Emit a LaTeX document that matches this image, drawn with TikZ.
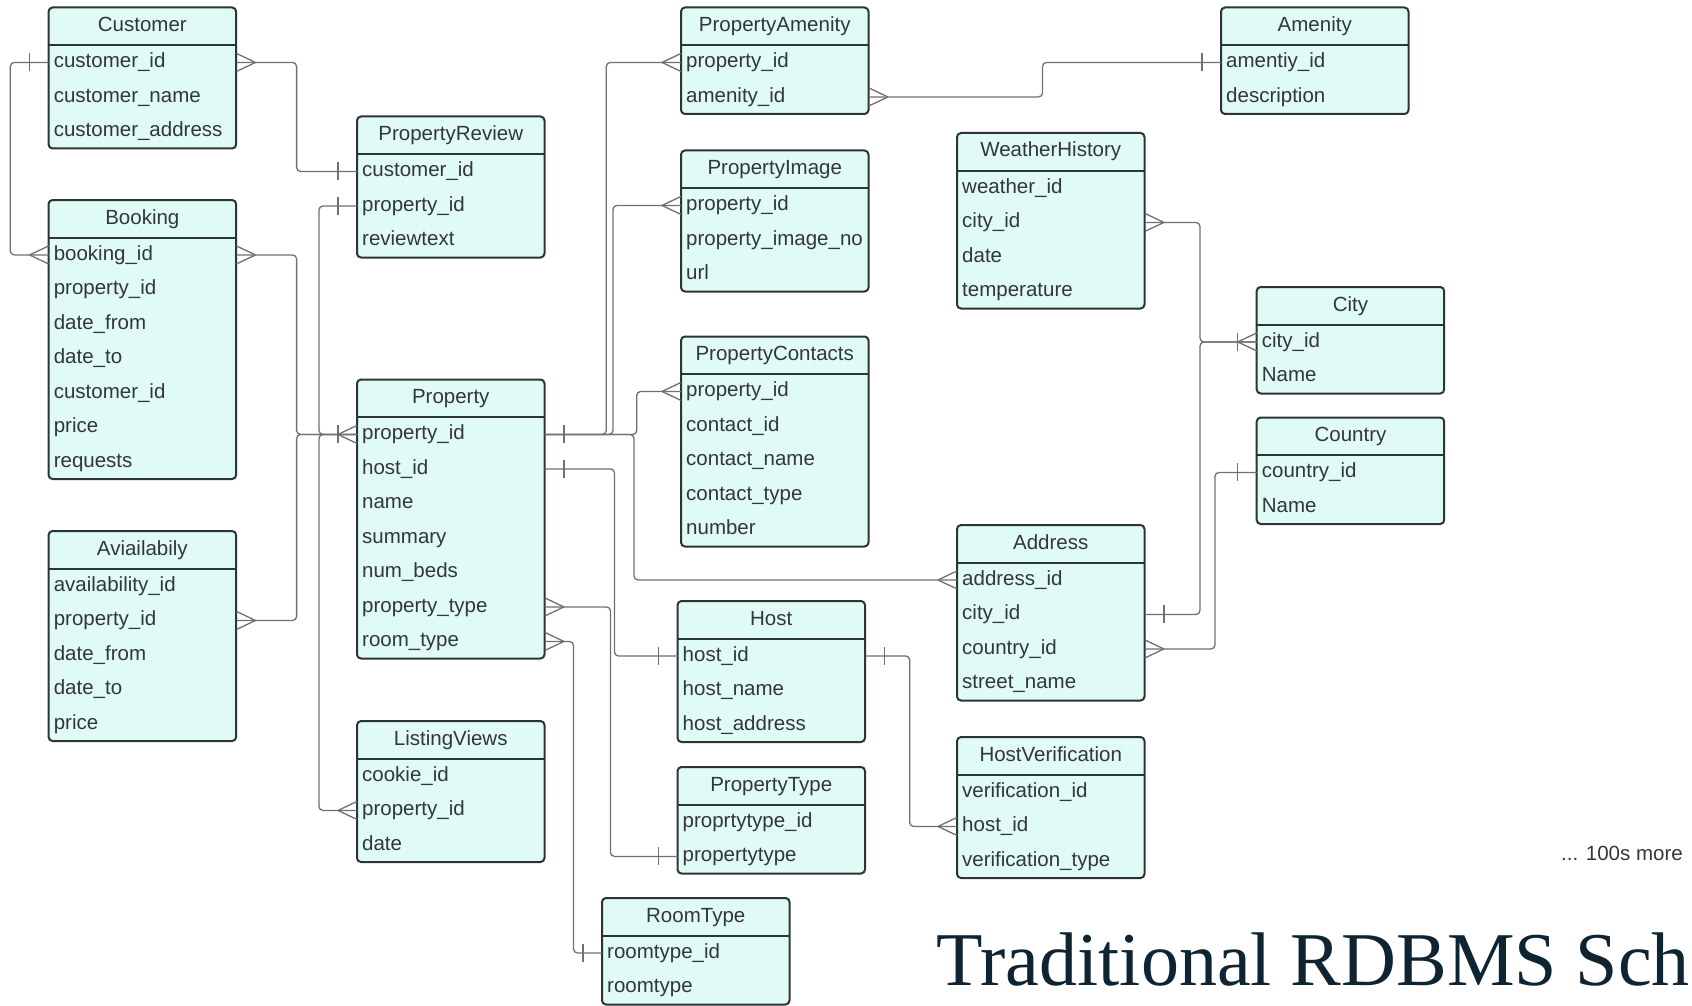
\documentclass[tikz,border=0pt]{standalone}
\usepackage{fontspec}
\setmainfont{Liberation Sans}
\newfontfamily\headlinefont{Liberation Serif}
\usetikzlibrary{calc}

\definecolor{tablefill}{RGB}{224,250,246}
\definecolor{tableedge}{RGB}{45,52,54}
\definecolor{inktext}{RGB}{50,55,57}
\definecolor{linkgray}{RGB}{112,112,112}
\definecolor{headlineink}{RGB}{14,36,50}

\tikzset{
  tablebox/.style={fill=tablefill, draw=tableedge, line width=2pt, rounded corners=4pt},
  headerrule/.style={draw=tableedge, line width=2pt},
  titletext/.style={inner sep=0pt, text=inktext, font=\fontsize{20.5}{24}\selectfont,
    text height=14.8pt, text depth=4.3pt},
  fieldtext/.style={inner xsep=5pt, inner ysep=0pt, text width=177.5pt, align=left,
    minimum height=34.5pt, text=inktext, font=\fontsize{20.5}{24}\selectfont,
    text height=14.8pt, text depth=4.3pt},
  rel/.style={draw=linkgray, line width=1.3pt, rounded corners=4pt},
  endmark/.style={draw=linkgray, line width=1.3pt},
}

% entity table: name, x, y (top left), number of rows, title, fields
\newcommand{\ertable}[6]{%
  \begin{scope}[shift={(#2,#3)}]
    \path[tablebox] (0,0) rectangle (187.5,{37.5+34.5*#4});
    \draw[headerrule] (0,37.5) -- (187.5,37.5);
    \node[titletext] (#1) at (93.75,18.75) {#5};
    \foreach \f [count=\i] in {#6} {
      \node[fieldtext, anchor=north west] (#1-\i) at (0,{37.5+34.5*(\i-1)}) {\f};
    }
  \end{scope}}

% crow's foot (many) at a field edge; #2 = +1 when the line leaves rightwards, -1 leftwards
\newcommand{\crowfoot}[2]{%
  \draw[endmark] #1 ++({19*(#2)},0) -- ++({-19*(#2)},-9) ++(0,18) -- ++({19*(#2)},-9);}
% single bar (one) at a field edge
\newcommand{\onebar}[2]{%
  \draw[endmark] #1 ++({19*(#2)},-9) -- ++(0,18);}

\begin{document}
\begin{tikzpicture}[x=1pt,y=-1pt]
\fill[white] (0,0) rectangle (1692,1006);
\useasboundingbox (0,0) rectangle (1692,1006);

% ---------- tables ----------
\ertable{customer}{48.6}{7.5}{3}{Customer}{customer\_id,customer\_name,customer\_address}
\ertable{booking}{48.6}{200}{7}{Booking}{booking\_id,property\_id,date\_from,date\_to,customer\_id,price,requests}
\ertable{avail}{48.6}{531}{5}{Aviailabily}{availability\_id,property\_id,date\_from,date\_to,price}
\ertable{review}{357}{116.5}{3}{PropertyReview}{customer\_id,property\_id,reviewtext}
\ertable{property}{357}{379.5}{7}{Property}{property\_id,host\_id,name,summary,num\_beds,property\_type,room\_type}
\ertable{views}{357}{721}{3}{ListingViews}{cookie\_id,property\_id,date}
\ertable{propamen}{681}{7.5}{2}{PropertyAmenity}{property\_id,amenity\_id}
\ertable{amenity}{1221}{7.5}{2}{Amenity}{amentiy\_id,description}
\ertable{propimg}{681}{150.5}{3}{PropertyImage}{property\_id,property\_image\_no,url}
\ertable{contacts}{681}{336.5}{5}{PropertyContacts}{property\_id,contact\_id,contact\_name,contact\_type,number}
\ertable{weather}{957}{133}{4}{WeatherHistory}{weather\_id,city\_id,date,temperature}
\ertable{city}{1256.7}{287}{2}{City}{city\_id,Name}
\ertable{country}{1256.7}{417.5}{2}{Country}{country\_id,Name}
\ertable{address}{957}{525}{4}{Address}{address\_id,city\_id,country\_id,street\_name}
\ertable{host}{677.5}{601}{3}{Host}{host\_id,host\_name,host\_address}
\ertable{proptype}{677.5}{767}{2}{PropertyType}{proprtytype\_id,propertytype}
\ertable{hostver}{957}{737}{3}{HostVerification}{verification\_id,host\_id,verification\_type}
\ertable{roomtype}{602}{898}{2}{RoomType}{roomtype\_id,roomtype}

% ---------- vertical routing channels ----------
\coordinate (chA) at (10.3,0);
\coordinate (chB) at (296.6,0);
\coordinate (chC) at (319,0);
\coordinate (chD) at (606.3,0);
\coordinate (chE) at (613,0);
\coordinate (chF) at (636.7,0);
\coordinate (chG) at (634,0);
\coordinate (chH) at (614.5,0);
\coordinate (chI) at (610.5,0);
\coordinate (chJ) at (573.5,0);
\coordinate (chK) at (1042.5,0);
\coordinate (chL) at (1200,0);
\coordinate (chM) at (1215,0);
\coordinate (chN) at (909.7,0);

% ---------- relationships ----------
\draw[rel] (customer-1.west) -- (customer-1.west -| chA) -- (booking-1.west -| chA) -- (booking-1.west);
\draw[rel] (customer-1.east) -- (customer-1.east -| chB) -- (review-1.west -| chB) -- (review-1.west);
\draw[rel] (booking-1.east) -- (booking-1.east -| chB) -- (property-1.west -| chB) -- (property-1.west);
\draw[rel] (avail-2.east) -- (avail-2.east -| chB) -- (property-1.west -| chB) -- (property-1.west);
\draw[rel] (review-2.west) -- (review-2.west -| chC) -- (property-1.west -| chC) -- (property-1.west);
\draw[rel] (views-2.west) -- (views-2.west -| chC) -- (property-1.west -| chC) -- (property-1.west);
\draw[rel] (property-1.east) -- (property-1.east -| chD) -- (propamen-1.west -| chD) -- (propamen-1.west);
\draw[rel] (property-1.east) -- (property-1.east -| chE) -- (propimg-1.west -| chE) -- (propimg-1.west);
\draw[rel] (property-1.east) -- (property-1.east -| chF) -- (contacts-1.west -| chF) -- (contacts-1.west);
\draw[rel] (property-1.east) -- (property-1.east -| chG) -- (address-1.west -| chG) -- (address-1.west);
\draw[rel] (property-2.east) -- (property-2.east -| chH) -- (host-1.west -| chH) -- (host-1.west);
\draw[rel] (property-6.east) -- (property-6.east -| chI) -- (proptype-2.west -| chI) -- (proptype-2.west);
\draw[rel] (property-7.east) -- (property-7.east -| chJ) -- (roomtype-1.west -| chJ) -- (roomtype-1.west);
\draw[rel] (propamen-2.east) -- (propamen-2.east -| chK) -- (amenity-1.west -| chK) -- (amenity-1.west);
\draw[rel] (weather-2.east) -- (weather-2.east -| chL) -- (city-1.west -| chL) -- (city-1.west);
\draw[rel] (address-2.east) -- (address-2.east -| chL) -- (city-1.west -| chL) -- (city-1.west);
\draw[rel] (address-3.east) -- (address-3.east -| chM) -- (country-1.west -| chM) -- (country-1.west);
\draw[rel] (host-1.east) -- (host-1.east -| chN) -- (hostver-2.west -| chN) -- (hostver-2.west);

% ---------- cardinality marks ----------
\onebar{(customer-1.west)}{-1}
\crowfoot{(booking-1.west)}{-1}
\crowfoot{(customer-1.east)}{1}
\onebar{(review-1.west)}{-1}
\crowfoot{(booking-1.east)}{1}
\crowfoot{(property-1.west)}{-1}
\onebar{(property-1.west)}{-1}
\crowfoot{(avail-2.east)}{1}
\onebar{(review-2.west)}{-1}
\crowfoot{(views-2.west)}{-1}
\onebar{(property-1.east)}{1}
\crowfoot{(propamen-1.west)}{-1}
\crowfoot{(propimg-1.west)}{-1}
\crowfoot{(contacts-1.west)}{-1}
\crowfoot{(address-1.west)}{-1}
\onebar{(property-2.east)}{1}
\onebar{(host-1.west)}{-1}
\crowfoot{(property-6.east)}{1}
\onebar{(proptype-2.west)}{-1}
\crowfoot{(property-7.east)}{1}
\onebar{(roomtype-1.west)}{-1}
\crowfoot{(propamen-2.east)}{1}
\onebar{(amenity-1.west)}{-1}
\crowfoot{(weather-2.east)}{1}
\crowfoot{(city-1.west)}{-1}
\onebar{(city-1.west)}{-1}
\onebar{(address-2.east)}{1}
\crowfoot{(address-3.east)}{1}
\onebar{(country-1.west)}{-1}
\onebar{(host-1.east)}{1}
\crowfoot{(hostver-2.west)}{-1}

% ---------- captions ----------
\node[anchor=west, inner sep=0pt, text=inktext, font=\fontsize{20.5}{24}\selectfont] (more) at (1561,853.5) {... 100s more};
\node[anchor=base west, inner sep=0pt, text=headlineink, font=\headlinefont\fontsize{76}{80}\selectfont] (headline) at (936.6,985) {Traditional RDBMS Sch};
\end{tikzpicture}
\end{document}
